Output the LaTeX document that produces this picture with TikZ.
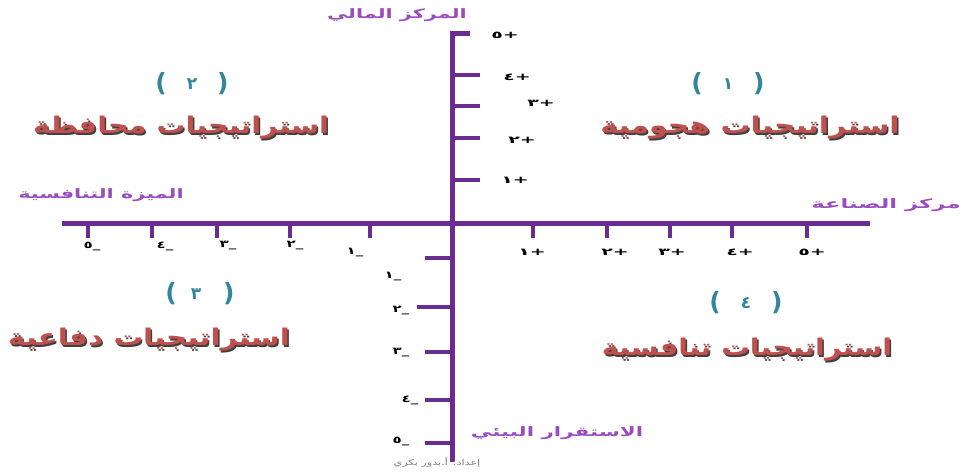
\documentclass[tikz,border=0pt]{standalone}
\usepackage{fontspec}
\TeXXeTstate=1
\newfontfamily\arabicfont[Script=Arabic]{DejaVu Sans}
\definecolor{axiscol}{HTML}{6B2C91}
\definecolor{titlecol}{HTML}{C0504D}
\definecolor{numcol}{HTML}{31859C}
\definecolor{labcol}{HTML}{9B4DC0}
\definecolor{creditcol}{HTML}{808080}
\newcommand\stretchtext[2]{\scalebox{#1}[1]{#2}}
\newcommand\bigparen[1]{{\fontsize{25}{26}\selectfont #1}}
\newcommand\smalldigit[1]{\raisebox{2pt}{\fontsize{17}{18}\selectfont #1}}
\tikzset{
  axisline/.style={draw=axiscol,line width=5pt},
  tickline/.style={draw=axiscol,line width=4.5pt},
  ticklab/.style={inner sep=0pt,font=\arabicfont\bfseries\fontsize{10}{11}\selectfont},
  axislab/.style={inner sep=0pt,text=labcol,font=\arabicfont\bfseries\fontsize{13}{14}\selectfont},
  quadnum/.style={inner sep=0pt,text=numcol,font=\arabicfont\bfseries\fontsize{19}{20}\selectfont},
  quadtitle/.style={inner sep=0pt,text=titlecol,font=\arabicfont\bfseries\fontsize{23}{26}\selectfont},
  quadshadow/.style={inner sep=0pt,text=black!75,font=\arabicfont\bfseries\fontsize{23}{26}\selectfont},
  creditlab/.style={inner sep=0pt,text=creditcol,font=\arabicfont\fontsize{8}{9}\selectfont}
}
\begin{document}
\begin{tikzpicture}[x=1pt,y=-1pt]
\useasboundingbox (0,0) rectangle (965,471);
% axes
\coordinate (vtopend) at (470,33);
\coordinate (vtop) at (452,33);
\coordinate (vbot) at (452,462);
\coordinate (hl) at (62,223);
\coordinate (hr) at (870,223);
\draw[axisline,line join=miter] (vtopend) -- (vtop) -- (vbot);
\draw[axisline] (hl) -- (hr);
% ticks up (right side)
\foreach \y in {75,106,138,180} \draw[tickline] (452,\y) -- (480,\y);
% ticks below horizontal axis
\foreach \x in {88,152,217,290,370,533,607,670,732,807} \draw[tickline] (\x,223) -- (\x,238);
% ticks left on lower vertical axis
\draw[tickline] (425,258) -- (452,258);
\draw[tickline] (417,307) -- (452,307);
\foreach \y in {352,400,443} \draw[tickline] (425,\y) -- (452,\y);
% tick labels positive y
\node[ticklab] (yp5) at (505,35) {\stretchtext{1.9}{+٥}};
\node[ticklab] (yp4) at (517,77) {\stretchtext{1.9}{+٤}};
\node[ticklab] (yp3) at (541,103) {\stretchtext{1.9}{+٣}};
\node[ticklab] (yp2) at (522,140) {\stretchtext{1.9}{+٢}};
\node[ticklab] (yp1) at (515,180) {\stretchtext{1.9}{+١}};
% tick labels negative y
\node[ticklab] (yn1) at (393,277) {\stretchtext{1.5}{\_١}};
\node[ticklab] (yn2) at (401,310) {\stretchtext{1.5}{\_٢}};
\node[ticklab] (yn3) at (401,352) {\stretchtext{1.5}{\_٣}};
\node[ticklab] (yn4) at (410,400) {\stretchtext{1.5}{\_٤}};
\node[ticklab] (yn5) at (401,441) {\stretchtext{1.5}{\_٥}};
% tick labels x
\node[ticklab] (xn5) at (92,246) {\stretchtext{1.5}{\_٥}};
\node[ticklab] (xn4) at (165,246) {\stretchtext{1.5}{\_٤}};
\node[ticklab] (xn3) at (228,246) {\stretchtext{1.5}{\_٣}};
\node[ticklab] (xn2) at (295,246) {\stretchtext{1.5}{\_٢}};
\node[ticklab] (xn1) at (355,253) {\stretchtext{1.5}{\_١}};
\node[ticklab] (xp1) at (532,252) {\stretchtext{1.9}{+١}};
\node[ticklab] (xp2) at (615,252) {\stretchtext{1.9}{+٢}};
\node[ticklab] (xp3) at (672,252) {\stretchtext{1.9}{+٣}};
\node[ticklab] (xp4) at (740,252) {\stretchtext{1.9}{+٤}};
\node[ticklab] (xp5) at (812,252) {\stretchtext{1.9}{+٥}};
% axis labels
\node[axislab] (ltop) at (397,15) {\scalebox{1.6}[1]{\beginR المركز المالي\endR}};
\node[axislab] (lleft) at (101,195) {\scalebox{1.6}[1]{\beginR الميزة التنافسية\endR}};
\node[axislab] (lright) at (886,205) {\scalebox{1.75}[1]{\beginR مركز الصناعة\endR}};
\node[axislab] (lbot) at (557,433) {\scalebox{1.65}[1]{\beginR الاستقرار البيئي\endR}};
\node[creditlab] (credit) at (437,462) {\scalebox{1.4}[1]{\beginR إعداد: أ.بدور بكري\endR}};
% quadrant numbers
\node[quadnum] (n1) at (728,84) {\bigparen{)}\hspace{20pt}\smalldigit{١}\hspace{20pt}\bigparen{(}};
\node[quadnum] (n2) at (192,84) {\bigparen{)}\hspace{20pt}\smalldigit{٢}\hspace{20pt}\bigparen{(}};
\node[quadnum] (n3) at (200,294) {\bigparen{)}\hspace{14pt}\smalldigit{٣}\hspace{22pt}\bigparen{(}};
\node[quadnum] (n4) at (746,303) {\bigparen{)}\hspace{20pt}\smalldigit{٤}\hspace{20pt}\bigparen{(}};
% quadrant titles (shadow then text)
\node[quadshadow] (t1s) at (751.5,129.5) {\scalebox{1.3}[1]{\beginR استراتيجيات هجومية\endR}};
\node[quadtitle] (t1) at (750,128) {\scalebox{1.3}[1]{\beginR استراتيجيات هجومية\endR}};
\node[quadshadow] (t2s) at (182.5,129.5) {\scalebox{1.25}[1]{\beginR استراتيجيات محافظة\endR}};
\node[quadtitle] (t2) at (181,128) {\scalebox{1.25}[1]{\beginR استراتيجيات محافظة\endR}};
\node[quadshadow] (t3s) at (150.5,341.5) {\scalebox{1.28}[1]{\beginR استراتيجيات دفاعية\endR}};
\node[quadtitle] (t3) at (149,340) {\scalebox{1.28}[1]{\beginR استراتيجيات دفاعية\endR}};
\node[quadshadow] (t4s) at (748.5,351.5) {\scalebox{1.24}[1]{\beginR استراتيجيات تنافسية\endR}};
\node[quadtitle] (t4) at (747,350) {\scalebox{1.24}[1]{\beginR استراتيجيات تنافسية\endR}};
\end{tikzpicture}
\end{document}
